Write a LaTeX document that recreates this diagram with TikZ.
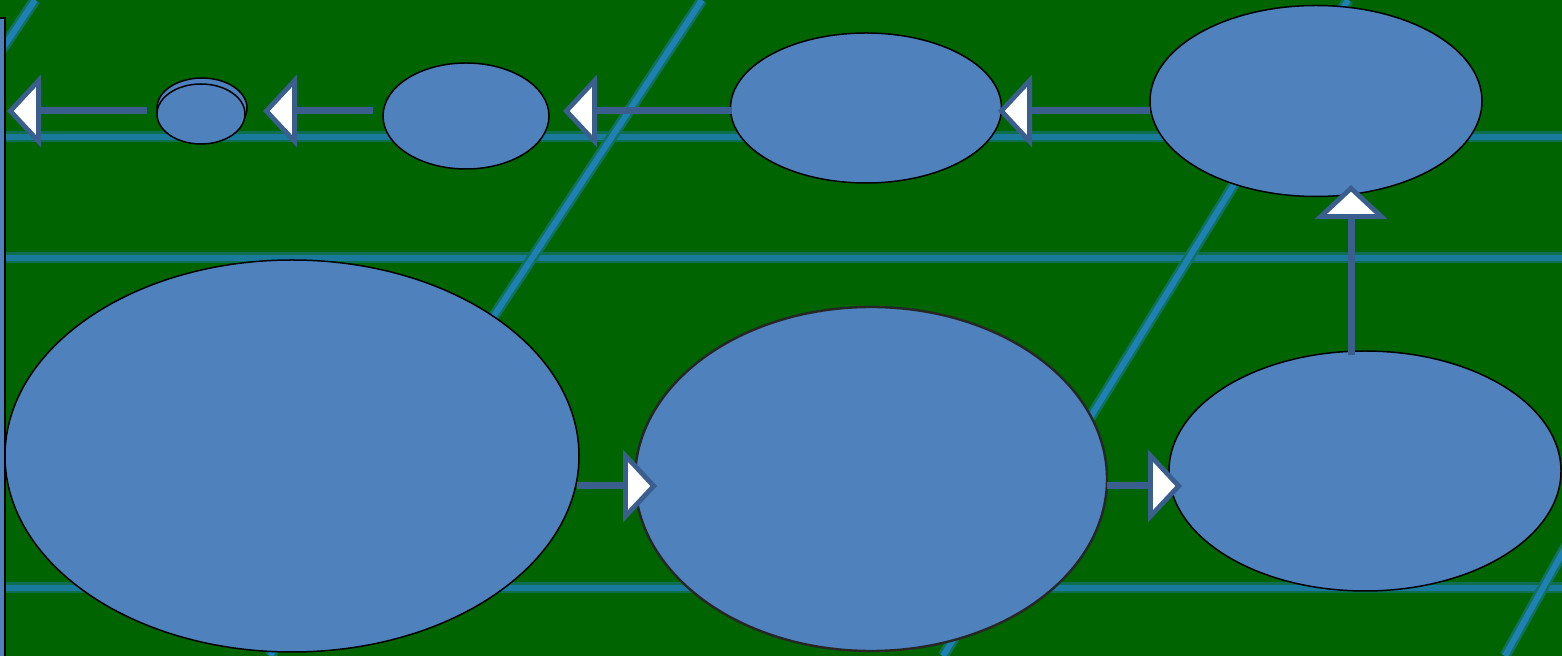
\documentclass[tikz,border=0pt]{standalone}
\usetikzlibrary{shapes.geometric,arrows.meta}
\definecolor{bggreen}{RGB}{0,100,0}
\definecolor{gridblue}{RGB}{30,128,180}
\definecolor{gridblueh}{RGB}{26,122,156}
\definecolor{bubble}{RGB}{79,129,189}
\definecolor{connblue}{RGB}{58,94,142}
\tikzset{
  gridglow/.style={line width=5.5pt, draw=#1!50!bggreen},
  gridcore/.style={line width=3pt, draw=#1},
  bub/.style={ellipse, draw=black, fill=bubble, line width=0.75pt, inner sep=0pt},
  conn/.style={draw=connblue, line width=3.5pt,
    -{Triangle[length=17pt, width=36pt, line width=2.4pt, fill=white]}},
}
\begin{document}
\begin{tikzpicture}[x=0.5pt, y=-0.5pt]
\useasboundingbox (0,0) rectangle (1562,656);
\clip (0,0) rectangle (1562,656);
\fill[bggreen] (0,0) rectangle (1562,656);
% background grid lines
\foreach \yy in {137,258,588} {
  \draw[gridglow=gridblueh] (0,\yy) -- (1562,\yy);
  \draw[gridcore=gridblueh] (0,\yy) -- (1562,\yy);
}
\foreach \xa/\ya/\xb/\yb in {702/0/270/656, 1348/0/943/656, 1590/503/1505/656, 35/0/-5/60} {
  \draw[gridglow=gridblue] (\xa,\ya) -- (\xb,\yb);
  \draw[gridcore=gridblue] (\xa,\ya) -- (\xb,\yb);
}
% left partial shape
\filldraw[fill=bubble, draw=black, line width=0.75pt] (-10,18) rectangle (5,700);
% bubbles
\node[bub, minimum width=45pt, minimum height=30pt] (eAback) at (202,108) {};
\node[bub, minimum width=44pt, minimum height=30pt] (eA) at (201,114) {};
\node[bub, minimum width=83pt, minimum height=53pt] (eB) at (466,116) {};
\node[bub, minimum width=135.5pt, minimum height=75pt] (eC) at (866,108) {};
\node[bub, minimum width=166pt, minimum height=95.5pt] (eD) at (1316,101) {};
\node[bub, minimum width=287pt, minimum height=196pt] (eE) at (292,456) {};
\node[bub, draw=black!85, line width=1.2pt, minimum width=236pt, minimum height=172pt] (eF) at (871,479) {};
\node[bub, minimum width=196pt, minimum height=120pt] (eG) at (1365,471) {};
% connector end points
\coordinate (s1) at (147,111); \coordinate (t1) at (7,111);
\coordinate (s2) at (373,111); \coordinate (t2) at (263,111);
\coordinate (s3) at (732,111); \coordinate (t3) at (563,111);
\coordinate (s4) at (1150,111); \coordinate (t4) at (998,111);
\coordinate (s5) at (577,486); \coordinate (t5) at (657,486);
\coordinate (s6) at (1107,486); \coordinate (t6) at (1182,486);
\coordinate (s7) at (1351,355); \coordinate (t7) at (1351,185);
% connectors
\draw[conn] (s1) -- (t1);
\draw[conn] (s2) -- (t2);
\draw[conn] (s3) -- (t3);
\draw[conn] (s4) -- (t4);
\draw[conn] (s5) -- (t5);
\draw[conn] (s6) -- (t6);
\draw[conn] (s7) -- (t7);
\end{tikzpicture}
\end{document}
